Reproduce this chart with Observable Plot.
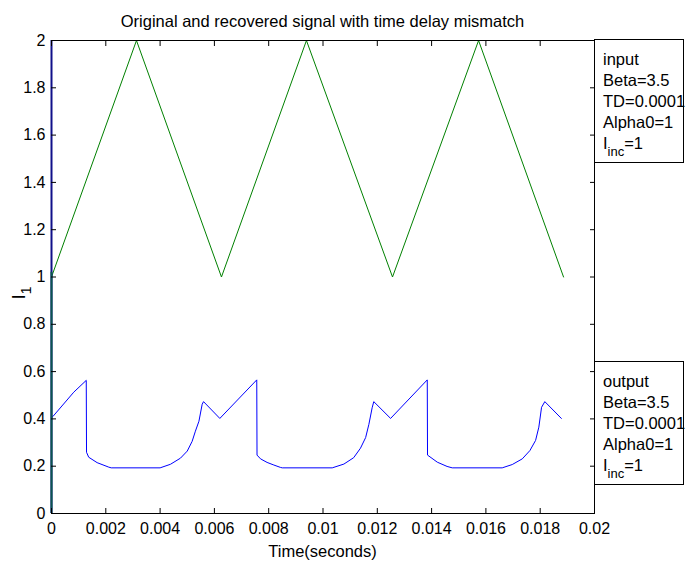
<!DOCTYPE html>
<html>
<head>
<meta charset="utf-8">
<script src="https://cdn.jsdelivr.net/npm/d3@7"></script>
<script src="https://cdn.jsdelivr.net/npm/@observablehq/plot@0.6"></script>
<style>
  body { margin: 0; background: #fff; }
  #wrap { position: relative; width: 697px; height: 561px; font-family: "Liberation Sans", Arial, sans-serif; color: #000; }
  #chart { position: absolute; left: 0; top: 0; }
  .title { position: absolute; left: 51px; width: 543px; top: 13px; text-align: center; font-size: 16.5px; line-height: 16px; white-space: nowrap; }
  .xlabel { position: absolute; left: 51px; width: 543px; top: 543px; text-align: center; font-size: 16.5px; line-height: 16px; }
  .ylabel { position: absolute; left: 19px; top: 293px; transform: translate(-50%, -50%) rotate(-90deg); font-size: 19px; line-height: 19px; white-space: nowrap; }
  .ylabel .sub { font-size: 14px; position: relative; top: 6px; }
  .box { position: absolute; left: 594px; width: 90px; height: 124px; box-sizing: border-box; border: 1px solid #000; background: #fff; padding: 9px 0 0 8px; font-size: 16.5px; line-height: 21px; white-space: nowrap; }
  .box .sub { font-size: 13px; position: relative; top: 7px; }
</style>
</head>
<body>
<div id="wrap">
  <div id="chart"></div>
  <div class="title" id="title"></div>
  <div class="xlabel" id="xlabel"></div>
  <div class="ylabel" id="ylabel"></div>
  <div class="box" id="box-in" style="top:39px"></div>
  <div class="box" id="box-out" style="top:361px"></div>
</div>
<script>
// ---- text ----
const titleText = "Original and recovered signal with time delay mismatch";
const xLabelText = "Time(seconds)";
const yLabelMain = "I";
const yLabelSub = "1";
const legendInput = ["input", "Beta=3.5", "TD=0.0001", "Alpha0=1"];
const legendOutput = ["output", "Beta=3.5", "TD=0.0001", "Alpha0=1"];
const legendLastMain = "I";
const legendLastSub = "inc";
const legendLastRest = "=1";

// ---- ticks ----
const xTicks = [0, 0.002, 0.004, 0.006, 0.008, 0.01, 0.012, 0.014, 0.016, 0.018, 0.02];
const xTickLabels = ["0", "0.002", "0.004", "0.006", "0.008", "0.01", "0.012", "0.014", "0.016", "0.018", "0.02"];
const yTicks = [0, 0.2, 0.4, 0.6, 0.8, 1, 1.2, 1.4, 1.6, 1.8, 2];
const yTickLabels = ["0", "0.2", "0.4", "0.6", "0.8", "1", "1.2", "1.4", "1.6", "1.8", "2"];

// ---- input series (green triangle wave) ----
const inputTime  = [0, 0.00313, 0.00626, 0.00939, 0.01256, 0.01573, 0.01886];
const inputValue = [1, 2, 1, 2, 1, 2, 1];

// ---- output series (blue recovered signal) ----
const outputTime = [
  0, 0.00005, 0.00082, 0.00128, 0.00129, 0.00137, 0.00168, 0.00211, 0.0022,
  0.0040, 0.00438, 0.00475, 0.0050, 0.00518, 0.0053, 0.00543, 0.00555, 0.0056,
  0.0062, 0.00756, 0.00757, 0.0077, 0.00794, 0.00819, 0.00843, 0.0085,
  0.01034, 0.01077, 0.01113, 0.01138, 0.01157, 0.01169, 0.01181, 0.01187,
  0.01249, 0.01384, 0.01385, 0.01421, 0.01457, 0.01476,
  0.0166, 0.01697, 0.01734, 0.01762, 0.01783, 0.01795, 0.01805, 0.01817,
  0.01878
];
const outputValue = [
  0.405, 0.41, 0.513, 0.563, 0.259, 0.238, 0.215, 0.196, 0.193,
  0.193, 0.208, 0.234, 0.264, 0.305, 0.348, 0.39, 0.462, 0.473,
  0.402, 0.565, 0.247, 0.231, 0.216, 0.205, 0.195, 0.193,
  0.193, 0.209, 0.236, 0.276, 0.321, 0.377, 0.447, 0.473,
  0.402, 0.565, 0.247, 0.217, 0.199, 0.193,
  0.193, 0.207, 0.231, 0.266, 0.309, 0.365, 0.449, 0.473,
  0.402
];

// vertical start segments drawn over the left axis at t = 0
const startSegments = [
  {t: 0, y1: 0, y2: 2, color: "#10108a"},
  {t: 0, y1: 0, y2: 1.02, color: "#0b5550"}
];

const inputData = inputTime.map((t, i) => ({t, v: inputValue[i]}));
const outputData = outputTime.map((t, i) => ({t, v: outputValue[i]}));

const chart = Plot.plot({
  width: 697,
  height: 561,
  marginTop: 40,
  marginBottom: 48,
  marginLeft: 51,
  marginRight: 103,
  style: {fontFamily: "'Liberation Sans', Arial, sans-serif", fontSize: "16px", color: "#000", background: "#fff", overflow: "visible"},
  x: {domain: [0, 0.02]},
  y: {domain: [0, 2]},
  marks: [
    Plot.line(inputData, {x: "t", y: "v", stroke: "#008000", strokeWidth: 1}),
    Plot.line(outputData, {x: "t", y: "v", stroke: "#0000ff", strokeWidth: 1}),
    Plot.frame({stroke: "#000"}),
    Plot.ruleX(startSegments, {x: "t", y1: "y1", y2: "y2", stroke: "color", strokeWidth: 2}),
    Plot.axisX(xTicks, {anchor: "bottom", tickSize: 0, tickPadding: 9, tickFormat: d => xTickLabels[xTicks.indexOf(d)], label: null}),
    Plot.axisX(xTicks, {anchor: "bottom", tickSize: -5, text: null, label: null}),
    Plot.axisX(xTicks, {anchor: "top", tickSize: -5, text: null, label: null}),
    Plot.axisY(yTicks, {anchor: "left", tickSize: 0, tickPadding: 6, tickFormat: d => yTickLabels[yTicks.indexOf(d)], label: null}),
    Plot.axisY(yTicks, {anchor: "left", tickSize: -5, text: null, label: null}),
    Plot.axisY(yTicks, {anchor: "right", tickSize: -5, text: null, label: null})
  ]
});
document.getElementById("chart").appendChild(chart);

document.getElementById("title").textContent = titleText;
document.getElementById("xlabel").textContent = xLabelText;
const yl = document.getElementById("ylabel");
yl.innerHTML = "";
yl.appendChild(document.createTextNode(yLabelMain));
const ys = document.createElement("span"); ys.className = "sub"; ys.textContent = yLabelSub; yl.appendChild(ys);

function fillBox(id, lines) {
  const box = document.getElementById(id);
  lines.forEach(s => { const d = document.createElement("div"); d.textContent = s; box.appendChild(d); });
  const last = document.createElement("div");
  last.appendChild(document.createTextNode(legendLastMain));
  const sub = document.createElement("span"); sub.className = "sub"; sub.textContent = legendLastSub;
  last.appendChild(sub);
  last.appendChild(document.createTextNode(legendLastRest));
  box.appendChild(last);
}
fillBox("box-in", legendInput);
fillBox("box-out", legendOutput);
</script>
</body>
</html>
